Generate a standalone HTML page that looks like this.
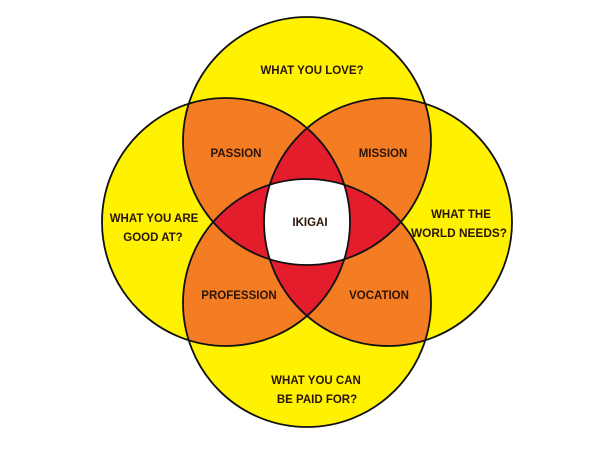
<!DOCTYPE html>
<html><head><meta charset="utf-8"><style>
html,body{margin:0;padding:0;background:#fff;}
svg{display:block;}
text{font-family:"Liberation Sans",sans-serif;font-weight:bold;font-size:11.5px;fill:#2b1508;text-anchor:middle;}
</style></head><body>
<svg width="602" height="452" viewBox="0 0 602 452" xmlns="http://www.w3.org/2000/svg">
<defs>
<clipPath id="cT"><circle cx="307" cy="141" r="124"/></clipPath>
<clipPath id="cB"><circle cx="307" cy="303" r="124"/></clipPath>
<clipPath id="cL"><circle cx="226" cy="222" r="124"/></clipPath>
<clipPath id="cR"><circle cx="388" cy="222" r="124"/></clipPath>
</defs>
<g fill="#fff200">
<circle cx="307" cy="141" r="124"/>
<circle cx="307" cy="303" r="124"/>
<circle cx="226" cy="222" r="124"/>
<circle cx="388" cy="222" r="124"/>
</g>
<g fill="#f47c22">
<g clip-path="url(#cT)"><circle cx="226" cy="222" r="124"/><circle cx="388" cy="222" r="124"/><circle cx="307" cy="303" r="124"/></g>
<g clip-path="url(#cB)"><circle cx="226" cy="222" r="124"/><circle cx="388" cy="222" r="124"/></g>
<g clip-path="url(#cL)"><circle cx="388" cy="222" r="124"/></g>
</g>
<g fill="#e31d2b">
<g clip-path="url(#cT)"><g clip-path="url(#cL)"><circle cx="388" cy="222" r="124"/><circle cx="307" cy="303" r="124"/></g></g>
<g clip-path="url(#cB)"><g clip-path="url(#cR)"><circle cx="226" cy="222" r="124"/><circle cx="307" cy="141" r="124"/></g></g>
</g>
<g fill="#ffffff">
<g clip-path="url(#cT)"><g clip-path="url(#cB)"><g clip-path="url(#cL)"><circle cx="388" cy="222" r="124"/></g></g></g>
</g>
<g fill="none" stroke="#111" stroke-width="1.8">
<circle cx="307" cy="141" r="124"/>
<circle cx="307" cy="303" r="124"/>
<circle cx="226" cy="222" r="124"/>
<circle cx="388" cy="222" r="124"/>
</g>
<text x="312" y="74">WHAT YOU LOVE?</text>
<text x="236" y="157">PASSION</text>
<text x="383" y="157">MISSION</text>
<text x="310" y="226">IKIGAI</text>
<text x="239" y="299">PROFESSION</text>
<text x="379" y="299">VOCATION</text>
<text x="154" y="222">WHAT YOU ARE</text>
<text x="153" y="241">GOOD AT?</text>
<text x="461" y="218">WHAT THE</text>
<text x="459" y="237" textLength="96" lengthAdjust="spacingAndGlyphs">WORLD NEEDS?</text>
<text x="316" y="384">WHAT YOU CAN</text>
<text x="317" y="403">BE PAID FOR?</text>
</svg>
</body></html>
